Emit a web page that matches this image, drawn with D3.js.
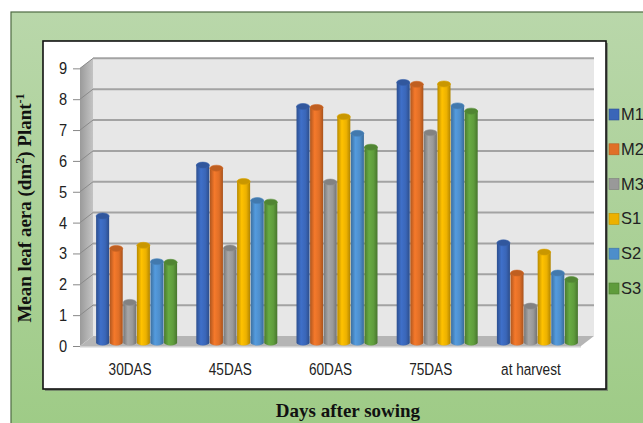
<!DOCTYPE html>
<html>
<head>
<meta charset="utf-8">
<script src="https://cdn.jsdelivr.net/npm/d3@7"></script>
<style>
  html, body { margin: 0; padding: 0; background: #fff; }
  svg { display: block; }
</style>
</head>
<body>
<svg id="chart" width="643" height="423"></svg>
<script>
// Stages of crop growth
const categories = ["30DAS", "45DAS", "60DAS", "75DAS", "at harvest"];
// Treatments
const series = ["M1", "M2", "M3", "S1", "S2", "S3"];
// Mean leaf area per treatment, one array per growth stage (same order as series)
const values30 = [4.1, 3.05, 1.3, 3.15, 2.62, 2.6];
const values45 = [5.75, 5.65, 3.06, 5.22, 4.6, 4.55];
const values60 = [7.65, 7.62, 5.2, 7.32, 6.78, 6.33];
const values75 = [8.43, 8.37, 6.8, 8.38, 7.67, 7.5];
const valuesHarvest = [3.23, 2.25, 1.18, 2.93, 2.25, 2.04];
const yTicks = [0, 1, 2, 3, 4, 5, 6, 7, 8, 9];
const colors = ["#3a66b8", "#e06f27", "#999999", "#ecb100", "#4d8ecb", "#5f9c3c"];

const table = categories.map((c, i) => ({
  category: c,
  values: [values30, values45, values60, values75, valuesHarvest][i]
}));

const labelFont = "'Liberation Sans Narrow', 'Arial Narrow', 'Liberation Sans', sans-serif";
const titleFont = "'Liberation Serif', 'Times New Roman', serif";

const svg = d3.select("#chart");
const defs = svg.append("defs");

// ---- outer green panel ----
const bg = defs.append("linearGradient").attr("id", "panelGrad")
  .attr("x1", 0).attr("y1", 0).attr("x2", 0).attr("y2", 1);
bg.append("stop").attr("offset", "0%").attr("stop-color", "#b9d7aa");
bg.append("stop").attr("offset", "100%").attr("stop-color", "#9ecb86");
svg.append("rect").attr("x", 11).attr("y", 12).attr("width", 640).attr("height", 420)
  .attr("fill", "url(#panelGrad)").attr("stroke", "#4f6b43").attr("stroke-width", 1.2);

// ---- white chart box with shadow ----
svg.append("rect").attr("x", 45).attr("y", 43).attr("width", 563).attr("height", 348)
  .attr("fill", "#555").attr("opacity", 0.55);
svg.append("rect").attr("x", 43).attr("y", 41).attr("width", 563).attr("height", 348)
  .attr("fill", "#fff").attr("stroke", "#111").attr("stroke-width", 1.6);

// ---- 3D geometry ----
const frontLeft = 80, frontRight = 581, frontBase = 346;
const depthX = 13, depthY = -10;

const x = d3.scaleBand().domain(categories).range([frontLeft, frontRight]).paddingInner(0).paddingOuter(0);
const y = d3.scaleLinear().domain([0, 9]).range([frontBase, frontBase - 9 * 30.85]);
const xInner = d3.scaleBand().domain(series).range([0, 81]).paddingInner(0.04);

// back wall
svg.append("rect")
  .attr("x", frontLeft + depthX).attr("y", y(9) + depthY)
  .attr("width", frontRight - frontLeft).attr("height", y(0) - y(9))
  .attr("fill", "#e7e7e7");

// side wall
const sideGrad = defs.append("linearGradient").attr("id", "sideGrad")
  .attr("x1", 0).attr("y1", 0).attr("x2", 1).attr("y2", 0);
sideGrad.append("stop").attr("offset", "0%").attr("stop-color", "#9a9a9a");
sideGrad.append("stop").attr("offset", "100%").attr("stop-color", "#c4c4c4");
svg.append("path")
  .attr("d", `M${frontLeft},${y(0)} L${frontLeft},${y(9)} L${frontLeft + depthX},${y(9) + depthY} L${frontLeft + depthX},${y(0) + depthY} Z`)
  .attr("fill", "url(#sideGrad)");

// floor
svg.append("path")
  .attr("d", `M${frontLeft},${y(0)} L${frontLeft + depthX},${y(0) + depthY} L${frontRight + depthX},${y(0) + depthY} L${frontRight},${y(0)} Z`)
  .attr("fill", "#b5b5b5");
svg.append("path")
  .attr("d", `M${frontLeft},${y(0)} L${frontRight},${y(0)} L${frontRight},${y(0) + 1.5} L${frontLeft},${y(0) + 1.5} Z`)
  .attr("fill", "#d0d0d0");

// gridlines on the back wall and side wall
const grid = svg.append("g");
yTicks.filter(t => t > 0).forEach(t => {
  grid.append("line")
    .attr("x1", frontLeft + depthX).attr("x2", frontRight + depthX)
    .attr("y1", y(t) + depthY).attr("y2", y(t) + depthY)
    .attr("stroke", "#a3a3a3").attr("stroke-width", 2);
  grid.append("line")
    .attr("x1", frontLeft).attr("x2", frontLeft + depthX)
    .attr("y1", y(t)).attr("y2", y(t) + depthY)
    .attr("stroke", "#8a8a8a").attr("stroke-width", 1);
});

// ---- y axis ----
const yAxis = svg.append("g")
  .attr("transform", `translate(${frontLeft},0)`)
  .call(d3.axisLeft(y).tickValues(yTicks).tickSizeInner(7).tickSizeOuter(0).tickPadding(8));
yAxis.select(".domain").remove();
yAxis.selectAll(".tick line").attr("stroke", "#888");
yAxis.selectAll(".tick text")
  .attr("font-family", labelFont)
  .attr("font-size", 17).attr("fill", "#222")
  .attr("transform", "scale(0.86,1)");

// ---- x axis labels ----
const xAxis = svg.append("g")
  .attr("transform", `translate(0,${frontBase + 8})`)
  .call(d3.axisBottom(x).tickSize(0).tickPadding(9));
xAxis.select(".domain").remove();
xAxis.selectAll(".tick text")
  .attr("font-family", labelFont)
  .attr("font-size", 17).attr("fill", "#222")
  .attr("transform", "scale(0.8,1)");

// ---- cylinder gradients ----
colors.forEach((c, i) => {
  const base = d3.color(c);
  const g = defs.append("linearGradient").attr("id", "cyl" + i)
    .attr("x1", 0).attr("y1", 0).attr("x2", 1).attr("y2", 0);
  g.append("stop").attr("offset", "0%").attr("stop-color", base.darker(0.7));
  g.append("stop").attr("offset", "35%").attr("stop-color", base.brighter(0.25));
  g.append("stop").attr("offset", "70%").attr("stop-color", base);
  g.append("stop").attr("offset", "100%").attr("stop-color", base.darker(0.8));
});

// ---- bars (cylinders), placed at mid depth ----
const barOffX = depthX / 2, barOffY = depthY / 2 + 1.5;
const bw = xInner.bandwidth();
const ry = 3;
const groups = svg.append("g").selectAll("g").data(table).join("g")
  .attr("transform", d => `translate(${x(d.category) + (x.bandwidth() - 81) / 2 + barOffX},${barOffY})`);

groups.each(function (d) {
  const g = d3.select(this);
  d.values.forEach((v, i) => {
    const bx = xInner(series[i]);
    const top = y(v), bottom = y(0);
    const rx = bw / 2;
    g.append("path")
      .attr("d", `M${bx},${top} L${bx},${bottom} A${rx},${ry} 0 0 0 ${bx + bw},${bottom} L${bx + bw},${top} Z`)
      .attr("fill", `url(#cyl${i})`);
    g.append("ellipse")
      .attr("cx", bx + rx).attr("cy", top).attr("rx", rx).attr("ry", ry)
      .attr("fill", d3.color(colors[i]).darker(0.45))
      .attr("stroke", d3.color(colors[i]).darker(0.2)).attr("stroke-width", 0.6);
  });
});

// ---- legend ----
const legend = svg.append("g").selectAll("g").data(series).join("g")
  .attr("transform", (d, i) => `translate(609,${109 + i * 34.8})`);
legend.append("rect").attr("width", 10).attr("height", 11)
  .attr("fill", (d, i) => colors[i]).attr("stroke", (d, i) => d3.color(colors[i]).darker(0.6)).attr("stroke-width", 0.6);
legend.append("text").attr("x", 12).attr("y", 11)
  .attr("font-family", labelFont)
  .attr("font-size", 16.5).attr("fill", "#222").text(d => d);

// ---- axis titles ----
const yTitle = svg.append("text")
  .attr("transform", "translate(31,208) rotate(-90)")
  .attr("text-anchor", "middle")
  .attr("font-family", titleFont)
  .attr("font-weight", "bold").attr("font-size", 19).attr("fill", "#111");
yTitle.append("tspan").text("Mean leaf aera (dm");
yTitle.append("tspan").attr("dy", -7).attr("font-size", 12).text("2");
yTitle.append("tspan").attr("dy", 7).text(") Plant");
yTitle.append("tspan").attr("dy", -7).attr("font-size", 12).text("-1");

svg.append("text")
  .attr("x", 348).attr("y", 417)
  .attr("text-anchor", "middle")
  .attr("font-family", titleFont)
  .attr("font-weight", "bold").attr("font-size", 19).attr("fill", "#111")
  .text("Days after sowing");
</script>
</body>
</html>
